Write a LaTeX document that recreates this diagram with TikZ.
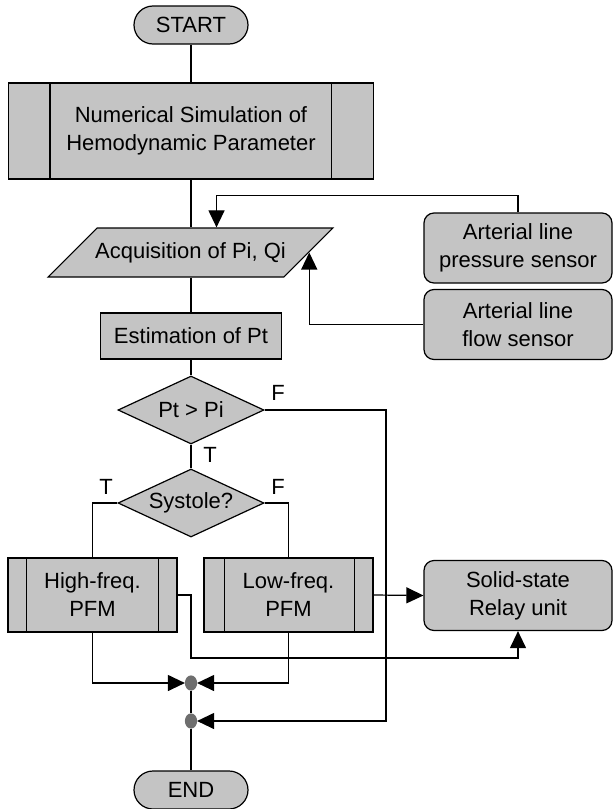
\documentclass[tikz,border=0pt]{standalone}
\usepackage{fontspec}
\setmainfont{Liberation Sans}
\usepackage{tikz}
\usetikzlibrary{shapes.misc}
\usetikzlibrary{shapes.geometric}
\usetikzlibrary{arrows.meta}
\definecolor{boxgray}{RGB}{196,196,196}
\definecolor{dotgray}{RGB}{110,110,110}
\tikzset{term/.style={rounded rectangle, draw=black, fill=boxgray, minimum width=114pt, minimum height=38pt, inner sep=0pt},proc/.style={rectangle, draw=black, fill=boxgray, inner sep=0pt, align=center},sens/.style={proc, rounded corners=10pt, minimum width=188pt, minimum height=70pt},dec/.style={diamond, draw=black, fill=boxgray, inner sep=0pt, aspect=2.15, minimum width=146pt, minimum height=68pt},io/.style={trapezium, trapezium left angle=45, trapezium right angle=135, draw=black, fill=boxgray, text height=16pt, text depth=5pt, inner xsep=-2pt, inner ysep=14pt},jn/.style={ellipse, draw=dotgray, fill=dotgray, minimum width=11pt, minimum height=14pt, inner sep=0pt}}

\begin{document}
\begin{tikzpicture}[x=1pt,y=-1pt,line width=1.2pt,>={Triangle[length=17pt,width=16pt]},font=\fontsize{22}{28}\selectfont]
      \useasboundingbox (0,0) rectangle (613,809);

      \node[term] (start) at (191,25) {START};
      \node[proc,minimum width=365pt,minimum height=96pt] (sim) at (191,131) {Numerical Simulation of\\Hemodynamic Parameter};
      \draw ([xshift=42]sim.north west) -- ([xshift=42]sim.south west);
      \draw ([xshift=-43]sim.north east) -- ([xshift=-43]sim.south east);

      \node[io] (acq) at (190.5,252.5) {Acquisition of Pi, Qi};
      \node[sens] (press) at (518,248) {Arterial line\\pressure sensor};
      \node[sens] (flow) at (518,324.5) {Arterial line\\flow sensor};
      \node[proc,minimum width=181pt,minimum height=46pt] (est) at (191,336) {Estimation of Pt};

      \node[dec] (cmp) at (191,410) {Pt > Pi};
      \node[dec] (sys) at (191,503) {Systole?};
      \node (lF1) at (278,393) {F};
      \node (lT1) at (210,455) {T};
      \node (lT2) at (106,487) {T};
      \node (lF2) at (278,487) {F};

      \node[proc,minimum width=169pt,minimum height=74pt] (hf) at (92.5,595) {High-freq.\\PFM};
      \draw ([xshift=19]hf.north west) -- ([xshift=19]hf.south west);
      \draw ([xshift=-19]hf.north east) -- ([xshift=-19]hf.south east);
      \node[proc,minimum width=169pt,minimum height=74pt] (lf) at (288.5,595) {Low-freq.\\PFM};
      \draw ([xshift=21]lf.north west) -- ([xshift=21]lf.south west);
      \draw ([xshift=-19]lf.north east) -- ([xshift=-19]lf.south east);
      \node[sens] (relay) at (518,595.5) {Solid-state\\Relay unit};

      \node[jn] (dot1) at (191,683) {};
      \node[jn] (dot2) at (191,721) {};
      \node[term] (fin) at (191,790) {END};
      \coordinate (fbus) at (386,721);
      \coordinate (hbend) at (191,658);

      \draw (start.south) -- (sim.north);
      \draw (sim.south) -- (sim.south |- acq.north);
      \draw[->] (press.north) -- ++(0,-17) -| ([xshift=26]acq.north);
      \draw[->] (flow.west) -| (acq.east);
      \draw (est.north |- acq.south) -- (est.north);
      \draw (est.south) -- (cmp.north);
      \draw (cmp.south) -- (sys.north);
      \draw (sys.west) -| (hf.north);
      \draw (sys.east) -| (lf.north);
      \draw[->] (cmp.east) -| (fbus) -- (dot2);
      %\draw[->] (cmp.east) -- (fbus);
      \draw[->] (lf.east) -- (relay.west);
      \draw[->] (hf.east) -| (hbend) -| (relay.south);
      \draw[->] (hf.south) |- (dot1);
      \draw[->] (lf.south) |- (dot1);
      \draw (dot1) -- (dot2);
      \draw (dot2) -- (fin);
\end{tikzpicture}
\end{document}
